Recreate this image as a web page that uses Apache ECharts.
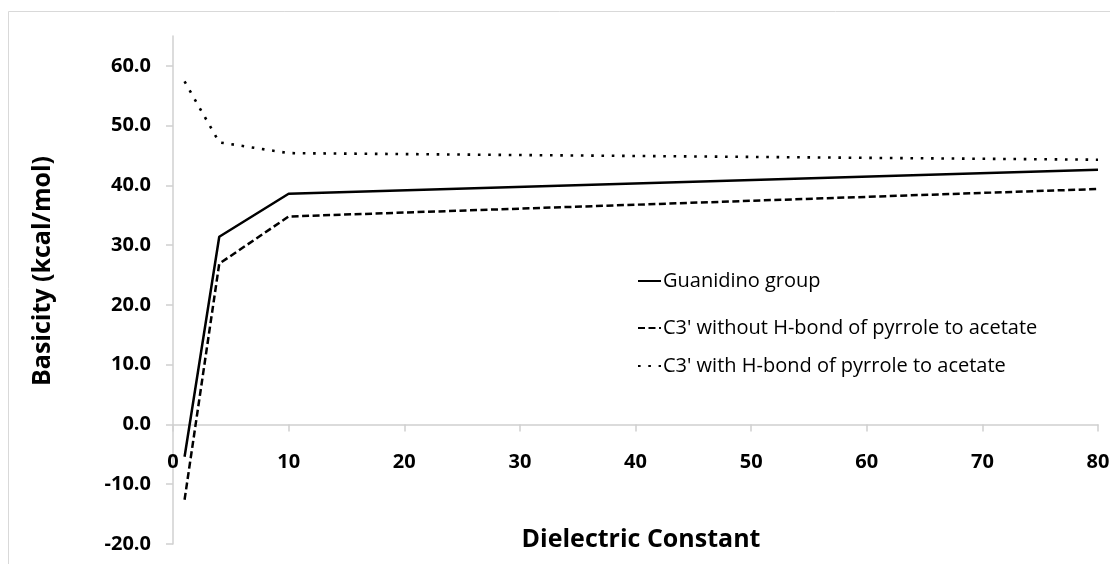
<!DOCTYPE html>
<html><head><meta charset="utf-8">
<script src="https://cdn.jsdelivr.net/npm/echarts@6/dist/echarts.min.js"></script>
<style>html,body{margin:0;padding:0;background:#fff}#c{width:1110px;height:564px}</style>
</head><body><div id="c"></div>
<script>
const seriesNames = ["Guanidino group", "C3' without H-bond of pyrrole to acetate", "C3' with H-bond of pyrrole to acetate"];
const dielectric = [1, 4, 10, 80];
const guanidino = [-5.4, 31.4, 38.6, 42.6];
const c3NoHbond = [-12.6, 26.9, 34.8, 39.4];
const c3Hbond = [57.4, 47.2, 45.4, 44.3];
const yTicks = [-20, -10, 0, 10, 20, 30, 40, 50, 60];
const xTicks = [0, 10, 20, 30, 40, 50, 60, 70, 80];
const xTitle = 'Dielectric Constant';
const yTitle = 'Basicity (kcal/mol)';

const font = "'Open Sans', sans-serif";
const chart = echarts.init(document.getElementById('c'), null, {renderer: 'canvas'});
const pairs = arr => dielectric.map((x, i) => [x, arr[i]]);
const legendTops = [266, 313, 351];
chart.setOption({
  animation: false,
  backgroundColor: '#fff',
  graphic: [
    {type: 'rect', shape: {x: 8.5, y: 11.5, width: 1200, height: 700}, style: {fill: 'none', stroke: '#d9d9d9', lineWidth: 1}, silent: true, z: -1},
    {type: 'text', x: 43, y: 271, rotation: Math.PI / 2, silent: true,
      style: {text: yTitle, font: "bold 25px 'Open Sans', sans-serif", fill: '#000', align: 'center', verticalAlign: 'middle'}},
    {type: 'text', x: 641, y: 540, silent: true,
      style: {text: xTitle, font: "bold 25px 'Open Sans', sans-serif", fill: '#000', align: 'center', verticalAlign: 'middle'}}
  ],
  grid: {left: 173, right: 12, top: 36, bottom: 20, containLabel: false, outerBoundsMode: 'none'},
  legend: seriesNames.map((n, i) => ({
    orient: 'vertical', left: 632, top: legendTops[i], itemWidth: 23, itemHeight: 14,
    itemStyle: {opacity: 0},
    textStyle: {fontFamily: font, fontSize: 20, color: '#000', padding: [0, 0, 0, -3]},
    data: [n]
  })),
  xAxis: {
    type: 'value', min: 0, max: 80, interval: 10,
    axisLine: {onZero: true, lineStyle: {color: '#d0d0d0', width: 1.5}},
    axisTick: {show: true, length: 7, lineStyle: {color: '#d0d0d0', width: 1.5}},
    axisLabel: {fontFamily: font, fontSize: 20, fontWeight: 'bold', color: '#000', margin: -92,
      customValues: xTicks, formatter: v => String(v)},
    splitLine: {show: false}
  },
  yAxis: {
    type: 'value', min: -20, max: 65, interval: 5,
    axisLine: {show: true, lineStyle: {color: '#d0d0d0', width: 1.5}},
    axisTick: {show: true, length: 7, customValues: yTicks, lineStyle: {color: '#d0d0d0', width: 1.5}},
    axisLabel: {fontFamily: font, fontSize: 20, fontWeight: 'bold', color: '#000', margin: 22,
      customValues: yTicks, formatter: v => v.toFixed(1)},
    splitLine: {show: false}
  },
  series: [
    {name: seriesNames[0], type: 'line', data: pairs(guanidino), symbol: 'none',
      lineStyle: {color: '#000', width: 2.5, type: 'solid'}, itemStyle: {color: '#000'}},
    {name: seriesNames[1], type: 'line', data: pairs(c3NoHbond), symbol: 'none',
      lineStyle: {color: '#000', width: 2.5, type: [7, 3.5]}, itemStyle: {color: '#000'}},
    {name: seriesNames[2], type: 'line', data: pairs(c3Hbond), symbol: 'none',
      lineStyle: {color: '#000', width: 2.6, type: [2.6, 7.7]}, itemStyle: {color: '#000'}}
  ]
});
</script></body></html>
